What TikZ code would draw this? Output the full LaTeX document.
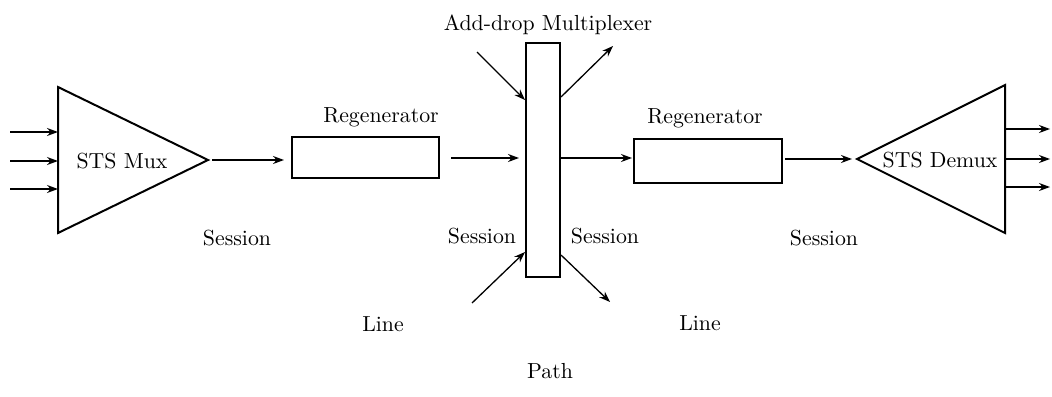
\documentclass[tikz,border=0pt]{standalone}
\usetikzlibrary{arrows.meta}
\begin{document}
\begin{tikzpicture}[x=0.5pt,y=-0.5pt,
  font=\fontsize{10.9}{13}\selectfont,
  box/.style={draw,line width=1pt,inner sep=0pt},
  tri/.style={draw,line width=1pt,line join=miter},
  sig/.style={line width=0.65pt,-{Stealth[length=5.5pt,width=4pt]}},
  lbl/.style={inner sep=0pt}]
\useasboundingbox (0,0) rectangle (1052,396);
% STS Mux
\coordinate (mtop) at (58,87);
\coordinate (mbot) at (58,233);
\coordinate (mapex) at (208,160);
\draw[tri] (mtop) -- (mapex) -- (mbot) -- cycle;
\node[lbl] (muxlbl) at (122,161) {STS Mux};
\coordinate (i1) at (10,132); \coordinate (m1) at (58,132);
\coordinate (i2) at (10,161); \coordinate (m2) at (58,161);
\coordinate (i3) at (10,189); \coordinate (m3) at (58,189);
\draw[sig] (i1) -- (m1);
\draw[sig] (i2) -- (m2);
\draw[sig] (i3) -- (m3);
% Regenerator 1
\node[box,minimum width=73.5pt,minimum height=20.5pt] (reg1) at (365.5,157.5) {};
\node[lbl] (reg1lbl) at (381,117) {Regenerator};
\draw[sig,shorten <=2pt,shorten >=3.5pt] (mapex) -- (reg1.west |- mapex);
% Add-drop multiplexer
\node[box,minimum width=17pt,minimum height=117pt] (adm) at (543,160) {};
\node[lbl] (admlbl) at (548,25) {Add-drop Multiplexer};
\draw[sig,shorten <=5.5pt,shorten >=3pt] (reg1.east |- 0,158) -- (adm.west |- 0,158);
\coordinate (tlin) at (477,52);
\coordinate (tlout) at (613,46);
\coordinate (blin) at (472,303);
\coordinate (blout) at (610,302);
\draw[sig] (tlin) -- (adm.west |- 0,100);
\draw[sig] (adm.east |- 0,97) -- (tlout);
\draw[sig] (blin) -- (adm.west |- 0,252);
\draw[sig] (adm.east |- 0,255) -- (blout);
% Regenerator 2
\node[box,minimum width=74pt,minimum height=22pt] (reg2) at (708,161) {};
\node[lbl] (reg2lbl) at (705,118) {Regenerator};
\draw[sig,shorten >=0.5pt] (adm.east |- 0,158) -- (reg2.west |- 0,158);
% STS Demux
\coordinate (dtop) at (1005,85);
\coordinate (dbot) at (1005,233);
\coordinate (dapex) at (857,159);
\draw[tri] (dtop) -- (dapex) -- (dbot) -- cycle;
\node[lbl] (demuxlbl) at (940,160) {STS Demux};
\draw[sig,shorten <=1pt,shorten >=2.5pt] (reg2.east |- dapex) -- (dapex);
\coordinate (d1) at (1005,129); \coordinate (o1) at (1050,129);
\coordinate (d2) at (1005,159); \coordinate (o2) at (1050,159);
\coordinate (d3) at (1005,187); \coordinate (o3) at (1050,187);
\draw[sig] (d1) -- (o1);
\draw[sig] (d2) -- (o2);
\draw[sig] (d3) -- (o3);
% labels
\node[lbl] (s1) at (237,238) {Session};
\node[lbl] (s2) at (482,236) {Session};
\node[lbl] (s3) at (605,236) {Session};
\node[lbl] (s4) at (824,238) {Session};
\node[lbl] (l1) at (383,324) {Line};
\node[lbl] (l2) at (700,323) {Line};
\node[lbl] (p1) at (550,371) {Path};
\end{tikzpicture}
\end{document}
